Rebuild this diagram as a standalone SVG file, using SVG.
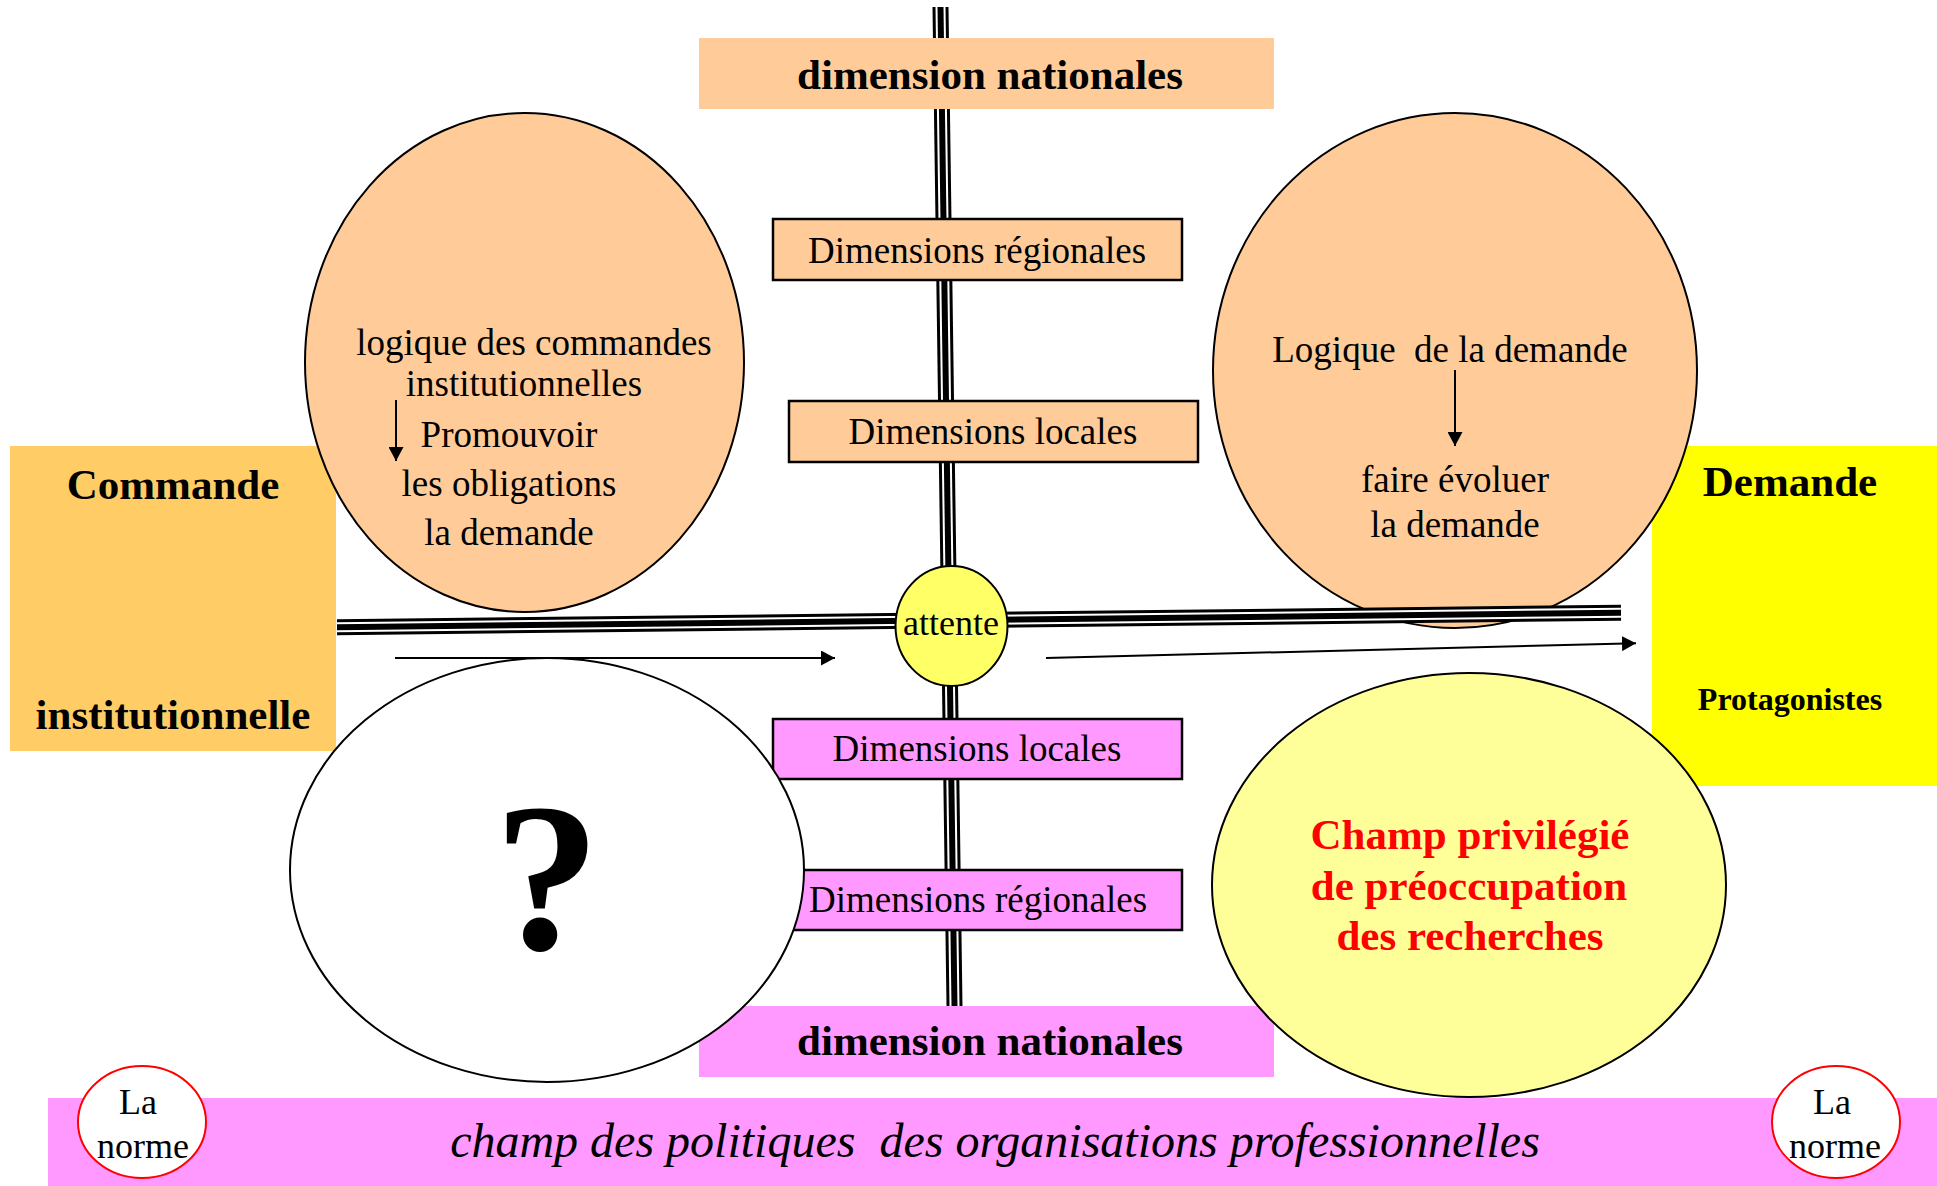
<svg xmlns="http://www.w3.org/2000/svg" width="1937" height="1186" viewBox="0 0 1937 1186">
<defs>
<style>
text{font-family:"Liberation Serif","Times New Roman",serif;fill:#000;white-space:pre}
.r{font-size:37px}
.b{font-size:43px;font-weight:bold}
.m{text-anchor:middle}
.ell{stroke:#000;stroke-width:2}
.box{stroke:#000;stroke-width:2.5}
.peach{fill:#FFCC99}
.pink{fill:#FF99FF}
.t1{fill:none;stroke:#000;stroke-width:16}
.t2{fill:none;stroke:#fff;stroke-width:10}
.t3{fill:none;stroke:#000;stroke-width:6}
.arr{fill:none;stroke:#000;stroke-width:2}
</style>
<marker id="ah" markerWidth="14" markerHeight="15" refX="14" refY="7.5" orient="auto" markerUnits="userSpaceOnUse">
<path d="M0,0 L14,7.5 L0,15 Z" fill="#000"/>
</marker>
</defs>
<rect width="1937" height="1186" fill="#fff"/>

<g id="band">
<rect x="48" y="1098" width="1889" height="88" class="pink"/>
<text x="995" y="1157" class="m" style="font-size:48px;font-style:italic" xml:space="preserve">champ des politiques  des organisations professionnelles</text>
</g>

<g id="commande">
<rect x="10" y="446" width="326" height="305" fill="#FFCC66"/>
<text x="173" y="499" class="b m">Commande</text>
<text x="173" y="729" class="b m">institutionnelle</text>
</g>

<g id="demande">
<rect x="1652" y="446" width="285" height="340" fill="#FFFF00"/>
<text x="1790" y="496" class="b m">Demande</text>
<text x="1790" y="710" class="m" style="font-size:32px;font-weight:bold">Protagonistes</text>
</g>

<g id="logique-commandes">
<ellipse cx="524.5" cy="362.5" rx="219.5" ry="249.5" class="ell peach"/>
<text x="534" y="355" class="r m">logique des commandes</text>
<text x="524" y="396" class="r m">institutionnelles</text>
<text x="509" y="447" class="r m">Promouvoir</text>
<text x="509" y="496" class="r m">les obligations</text>
<text x="509" y="545" class="r m">la demande</text>
<line x1="396" y1="400" x2="396" y2="461" class="arr" marker-end="url(#ah)"/>
</g>

<g id="logique-demande">
<ellipse cx="1455" cy="370.5" rx="242" ry="257.5" class="ell peach"/>
<text x="1450" y="362" class="r m" xml:space="preserve">Logique  de la demande</text>
<text x="1455" y="492" class="r m">faire évoluer</text>
<text x="1455" y="537" class="r m">la demande</text>
<line x1="1455" y1="370" x2="1455" y2="446" class="arr" marker-end="url(#ah)"/>
</g>

<g id="connectors">
<path d="M940.5,7 L954.5,1006" class="t1"/>
<path d="M940.5,7 L954.5,1006" class="t2"/>
<path d="M940.5,7 L954.5,1006" class="t3"/>
<path d="M337,627.3 L1621,612.7" class="t1"/>
<path d="M337,627.3 L1621,612.7" class="t2"/>
<path d="M337,627.3 L1621,612.7" class="t3"/>
<line x1="395" y1="658" x2="835" y2="658" class="arr" marker-end="url(#ah)"/>
<line x1="1046" y1="658" x2="1636" y2="643.3" class="arr" marker-end="url(#ah)"/>
</g>

<g id="nat-top">
<rect x="699" y="38" width="575" height="71" class="peach"/>
<text x="990" y="89" class="b m">dimension nationales</text>
</g>

<g id="reg-top">
<rect x="773" y="219" width="409" height="61" class="box peach"/>
<text x="977" y="263" class="r m">Dimensions régionales</text>
</g>

<g id="loc-top">
<rect x="789" y="401" width="409" height="61" class="box peach"/>
<text x="993" y="444" class="r m">Dimensions locales</text>
</g>

<g id="loc-bottom">
<rect x="773" y="719" width="409" height="60" class="box pink"/>
<text x="977" y="761" class="r m">Dimensions locales</text>
</g>

<g id="reg-bottom">
<rect x="773" y="870" width="409" height="60" class="box pink"/>
<text x="978" y="912" class="r m">Dimensions régionales</text>
</g>

<g id="nat-bottom">
<rect x="699" y="1006" width="575" height="71" class="pink"/>
<text x="990" y="1055" class="b m">dimension nationales</text>
</g>

<g id="attente">
<ellipse cx="951.5" cy="626" rx="56" ry="60" class="ell" fill="#FFFF66"/>
<text x="951" y="635" class="m" style="font-size:36px">attente</text>
</g>

<g id="question">
<ellipse cx="547" cy="870" rx="257" ry="212" class="ell" fill="#fff"/>
<text x="547" y="949" class="m" style="font-size:212px;font-weight:bold">?</text>
</g>

<g id="champ">
<ellipse cx="1469" cy="885" rx="257" ry="212" class="ell" fill="#FFFF99"/>
<text x="1470" y="849" class="b m" style="fill:#FF0000">Champ privilégié</text>
<text x="1469" y="900" class="b m" style="fill:#FF0000">de préoccupation</text>
<text x="1470" y="950" class="b m" style="fill:#FF0000">des recherches</text>
</g>

<g id="norme-left">
<ellipse cx="142" cy="1122" rx="64" ry="56" fill="#fff" stroke="#FF0000" stroke-width="2"/>
<text x="138" y="1114" class="m" style="font-size:36px">La</text>
<text x="143" y="1158" class="m" style="font-size:36px">norme</text>
</g>

<g id="norme-right">
<ellipse cx="1836" cy="1122" rx="64" ry="56" fill="#fff" stroke="#FF0000" stroke-width="2"/>
<text x="1832" y="1114" class="m" style="font-size:36px">La</text>
<text x="1835" y="1158" class="m" style="font-size:36px">norme</text>
</g>
</svg>
